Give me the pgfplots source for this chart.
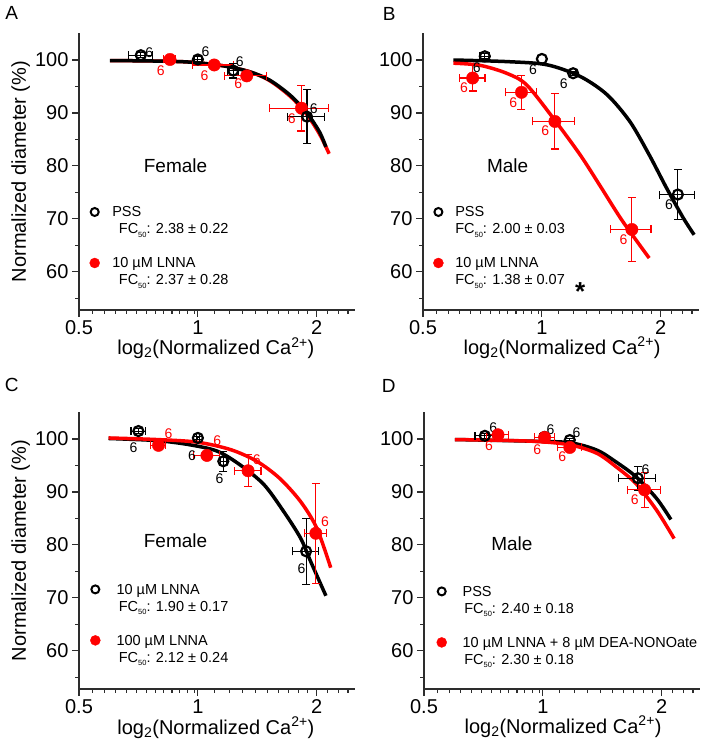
\documentclass[border=0pt]{standalone}
\usepackage{fontspec}
\setmainfont{Liberation Sans}
\usepackage{pgfplots}
\pgfplotsset{compat=1.18}
\definecolor{myred}{RGB}{255,0,0}
\definecolor{axgray}{RGB}{45,45,45}
\pgfplotsset{
 fitline/.style={no marks, smooth, line width=3.5pt, forget plot},
 blkmark/.style={only marks, mark=o, mark size=5pt, black, mark options={line width=2.2pt, black}, forget plot},
 blkpts/.style={blkmark, error bars/.cd, x dir=both, x explicit, y dir=both, y explicit,
    error bar style={black, line width=1.1pt}, error mark options={rotate=90, mark size=4pt, line width=1.1pt, black}},
 redpts/.style={only marks, mark=*, mark size=6.2pt, myred, mark options={myred}, forget plot,
    error bars/.cd, x dir=both, x explicit, y dir=both, y explicit,
    error bar style={myred, line width=1.1pt}, error mark options={rotate=90, mark size=4pt, line width=1.1pt, myred}},
}
\tikzset{nlab/.style={font=\fontsize{14}{14}\selectfont, inner sep=0pt}}
\newcommand{\panelaxis}[3]{\begin{axis}[
  scale only axis, width=276pt, height=277pt,
  xmode=log, xmin=0.5, xmax=2.5, ymin=52.8, ymax=105.1,
  axis x line*=bottom, axis y line*=left,
  axis line style={axgray, line width=1.1pt},
  xtick={0.5,1,2}, xticklabels={0.5,1,2},
  minor xtick={0.54,0.58,0.62,0.66,0.70,0.74,0.78,0.82,0.86,0.90,0.94,0.98,1.1,1.2,1.3,1.4,1.5,1.6,1.7,1.8,1.9,2.13,2.27,2.4},
  ytick={60,70,80,90,100}, minor ytick={55,65,75,85,95},
  tick align=outside, major tick length=7pt, minor tick length=4pt,
  tick style={axgray, line width=1.1pt},
  tick label style={font=\fontsize{20}{24}\selectfont},
  /pgf/number format/assume math mode=true,
  clip=false,
  legend cell align=left,
  legend style={anchor=north west, draw=none, fill=none, inner sep=0pt,
    font=\fontsize{14.5}{17}\selectfont,
    nodes={inner xsep=1pt, inner ysep=0pt, text height=12pt, text depth=5pt},
    at={(axis description cs:#2,#3)}},
  at={#1}, anchor=south west]}
\newcommand{\lbl}{\fontsize{20}{24}\selectfont}
\newcommand{\fcs}{FC\raisebox{-3.5pt}{\fontsize{7.5}{8}\selectfont 50}}
\newcommand{\legcirc}[1]{\addlegendimage{legend image code/.code={\draw[black, mark=o, mark size=4pt, mark options={line width=2pt}, only marks] plot coordinates {(6pt,1.5pt)}; \path (0pt,0pt) (#1,0pt);}}}
\newcommand{\legdot}[1]{\addlegendimage{legend image code/.code={\draw[myred, mark=*, mark size=5pt, mark options={myred}, only marks] plot coordinates {(6pt,1.5pt)}; \path (0pt,0pt) (#1,0pt);}}}
\begin{document}
\begin{tikzpicture}
\path[use as bounding box] (0,0) rectangle (705pt,752pt);
\node[font=\fontsize{19}{19}\selectfont] at (11.7pt,738.7pt) {A};
\node[font=\fontsize{19}{19}\selectfont] at (389.3pt,738pt) {B};
\node[font=\fontsize{19}{19}\selectfont] at (11.7pt,367pt) {C};
\node[font=\fontsize{19}{19}\selectfont] at (388.7pt,366pt) {D};

% ---------------- A
\panelaxis{(79pt,442pt)}{0.0337}{0.3798}
\addplot[fitline, myred] coordinates {(0.6,99.9)(0.79,99.8)(0.955,99.6)(1.16,98.9)(1.35,97.8)(1.52,96.1)(1.71,93.2)(1.88,89.9)(2.03,86.1)(2.15,82.3)};
\addplot[fitline, black] coordinates {(0.599,99.9)(0.786,99.8)(0.955,99.6)(1.16,98.9)(1.35,97.8)(1.52,96.2)(1.71,93.4)(1.88,90.2)(2.03,86.5)(2.11,83.6)};
\addplot[redpts] coordinates {(0.85,100.1) +- (0.03,0.3) (1.10,99.06) +- (0.13,0.3) (1.33,97.0) +- (0.165,0.8) (1.83,90.9) +- (0.31,4.3)};
\addplot[blkpts] coordinates {(0.717,100.9) +- (0.05,0.5) (1.0,100.1) +- (0.02,0.5) (1.229,98.0) +- (0.04,1.4) (1.89,89.3) +- (0.2,5.1)};
\node[nlab, black] at (axis cs:0.753,101.3) {6};
\node[nlab, black] at (axis cs:1.046,101.6) {6};
\node[nlab, black] at (axis cs:1.277,99.6) {6};
\node[nlab, black] at (axis cs:1.965,90.9) {6};
\node[nlab, myred] at (axis cs:0.806,98.0) {6};
\node[nlab, myred] at (axis cs:1.04,97.0) {6};
\node[nlab, myred] at (axis cs:1.265,95.5) {6};
\node[nlab, myred] at (axis cs:1.73,88.9) {6};
\node[font=\fontsize{19}{19}\selectfont] at (axis cs:0.878,80.1) {Female};
\node[font=\lbl] at (axis description cs:0.496,-0.138) {log\textsubscript{2}(Normalized Ca\textsuperscript{2+})};
\node[font=\lbl, rotate=90] at (axis description cs:-0.211,0.5) {Normalized diameter (\%)};
\legcirc{22.4pt}\addlegendentry{PSS}
\addlegendimage{empty legend}\addlegendentry{\hspace{6.6pt}\fcs: 2.38 ± 0.22}
\addlegendimage{empty legend}\addlegendentry{}
\legdot{22.4pt}\addlegendentry{10 µM LNNA}
\addlegendimage{empty legend}\addlegendentry{\hspace{6.6pt}\fcs: 2.37 ± 0.28}
\end{axis}

% ---------------- B
\panelaxis{(423pt,442pt)}{0.0326}{0.3798}
\addplot[fitline, black] coordinates {(0.597,100)(0.814,99.7)(1.03,99.1)(1.25,96.9)(1.46,93.5)(1.67,88.4)(1.87,82.1)(2.07,75.8)(2.28,70.2)(2.43,67.0)};
\addplot[fitline, myred] coordinates {(0.597,99.4)(0.697,99.0)(0.814,97.5)(0.915,95.3)(1.079,88.6)(1.25,82.1)(1.40,76.4)(1.58,70.2)(1.74,65.8)(1.87,62.6)};
\addplot[redpts] coordinates {(0.668,96.6) +- (0.05,2.45) (0.888,93.9) +- (0.08,3.25) (1.079,88.4) +- (0.13,5.2) (1.69,68.0) +- (0.2,6.1)};
\addplot[blkpts] coordinates {(0.717,100.7) +- (0.02,0.5) (1.20,97.5) +- (0.02,0.4) (2.21,74.6) +- (0.22,4.7)};
\addplot[blkmark] coordinates {(1.0,100.2)};
\node[nlab, black] at (axis cs:0.684,98.6) {6};
\node[nlab, black] at (axis cs:0.95,98.2) {6};
\node[nlab, black] at (axis cs:1.137,95.5) {6};
\node[nlab, black] at (axis cs:2.1,72.7) {6};
\node[nlab, myred] at (axis cs:0.635,94.7) {6};
\node[nlab, myred] at (axis cs:0.846,91.9) {6};
\node[nlab, myred] at (axis cs:1.02,86.7) {6};
\node[nlab, myred] at (axis cs:1.61,66.1) {6};
\node[font=\fontsize{19}{19}\selectfont] at (axis cs:0.819,80.06) {Male};
\node[font=\bfseries\fontsize{26}{26}\selectfont, yshift=-6pt] at (axis cs:1.25,57.5) {*};
\node[font=\lbl] at (axis description cs:0.504,-0.137) {log\textsubscript{2}(Normalized Ca\textsuperscript{2+})};
\legcirc{21.7pt}\addlegendentry{PSS}
\addlegendimage{empty legend}\addlegendentry{\fcs: 2.00 ± 0.03}
\addlegendimage{empty legend}\addlegendentry{}
\legdot{21.7pt}\addlegendentry{10 µM LNNA}
\addlegendimage{empty legend}\addlegendentry{\fcs: 1.38 ± 0.07}
\end{axis}

% ---------------- C
\panelaxis{(79pt,63pt)}{0.036}{0.3856}
\addplot[fitline, black] coordinates {(0.594,100.1)(0.787,99.7)(0.956,98.9)(1.12,97.7)(1.28,95.1)(1.47,91.4)(1.65,86.3)(1.82,81.3)(1.93,76.9)(2.11,70.4)};
\addplot[fitline, myred] coordinates {(0.594,100.2)(0.787,99.9)(0.997,99.4)(1.21,98.0)(1.41,95.8)(1.61,92.6)(1.82,88.2)(2.0,83.2)(2.17,75.7)};
\addplot[blkpts] coordinates {(0.707,101.5) +- (0.03,0.5) (1.0,100.2) +- (0.01,0.3) (1.16,95.8) +- (0.02,1.9) (1.88,78.8) +- (0.145,6.2)};
\addplot[redpts] coordinates {(0.795,98.8) +- (0.035,0.5) (1.054,96.9) +- (0.08,0.5) (1.34,94.0) +- (0.105,3.0) (1.99,82.2) +- (0.125,9.4)};
\node[nlab, black] at (axis cs:0.687,98.3) {6};
\node[nlab, black] at (axis cs:0.966,96.9) {6};
\node[nlab, black] at (axis cs:1.135,92.6) {6};
\node[nlab, black] at (axis cs:1.83,75.6) {6};
\node[nlab, myred] at (axis cs:0.843,101.1) {6};
\node[nlab, myred] at (axis cs:1.12,99.6) {6};
\node[nlab, myred] at (axis cs:1.41,96.1) {6};
\node[nlab, myred] at (axis cs:2.1,84.4) {6};
\node[font=\fontsize{19}{19}\selectfont] at (axis cs:0.878,80.8) {Female};
\node[font=\lbl] at (axis description cs:0.496,-0.140) {log\textsubscript{2}(Normalized Ca\textsuperscript{2+})};
\node[font=\lbl, rotate=90] at (axis description cs:-0.211,0.5) {Normalized diameter (\%)};
\legcirc{26pt}\addlegendentry{10 µM LNNA}
\addlegendimage{empty legend}\addlegendentry{\hspace{2.3pt}\fcs: 1.90 ± 0.17}
\addlegendimage{empty legend}\addlegendentry{}
\legdot{26pt}\addlegendentry{100 µM LNNA}
\addlegendimage{empty legend}\addlegendentry{\hspace{2.3pt}\fcs: 2.12 ± 0.24}
\end{axis}

% ---------------- D
\panelaxis{(424pt,63pt)}{0.041}{0.3783}
\addplot[fitline, black] coordinates {(0.599,99.9)(0.927,99.6)(1.17,99.3)(1.37,97.9)(1.53,95.7)(1.72,92.9)(1.94,88.8)(2.11,84.8)};
\addplot[fitline, myred] coordinates {(0.599,99.9)(0.927,99.6)(1.17,98.9)(1.37,97.3)(1.53,94.8)(1.72,91.6)(1.94,86.6)(2.15,81.2)};
\addplot[blkpts] coordinates {(0.713,100.6) +- (0.04,0.5) (1.01,100.4) +- (0.03,0.3) (1.17,99.8) +- (0.03,0.3) (1.74,92.6) +- (0.185,2.25)};
\addplot[redpts] coordinates {(0.77,100.8) +- (0.05,0.5) (1.01,100.3) +- (0.06,0.4) (1.17,98.4) +- (0.08,0.5) (1.81,90.4) +- (0.175,3.3)};
\node[nlab, black] at (axis cs:0.749,102.2) {6};
\node[nlab, black] at (axis cs:1.046,101.7) {6};
\node[nlab, black] at (axis cs:1.216,101.2) {6};
\node[nlab, black] at (axis cs:1.82,94.3) {6};
\node[nlab, myred] at (axis cs:0.731,98.7) {6};
\node[nlab, myred] at (axis cs:0.968,98.0) {6};
\node[nlab, myred] at (axis cs:1.12,96.7) {6};
\node[nlab, myred] at (axis cs:1.71,88.6) {6};
\node[font=\fontsize{19}{19}\selectfont] at (axis cs:0.835,80.3) {Male};
\node[font=\lbl] at (axis description cs:0.504,-0.136) {log\textsubscript{2}(Normalized Ca\textsuperscript{2+})};
\legcirc{25.7pt}\addlegendentry{PSS}
\addlegendimage{empty legend}\addlegendentry{\hspace{1.7pt}\fcs: 2.40 ± 0.18}
\addlegendimage{empty legend}\addlegendentry{}
\legdot{25.7pt}\addlegendentry{10 µM LNNA + 8 µM DEA-NONOate}
\addlegendimage{empty legend}\addlegendentry{\hspace{1.7pt}\fcs: 2.30 ± 0.18}
\end{axis}
\end{tikzpicture}
\end{document}
